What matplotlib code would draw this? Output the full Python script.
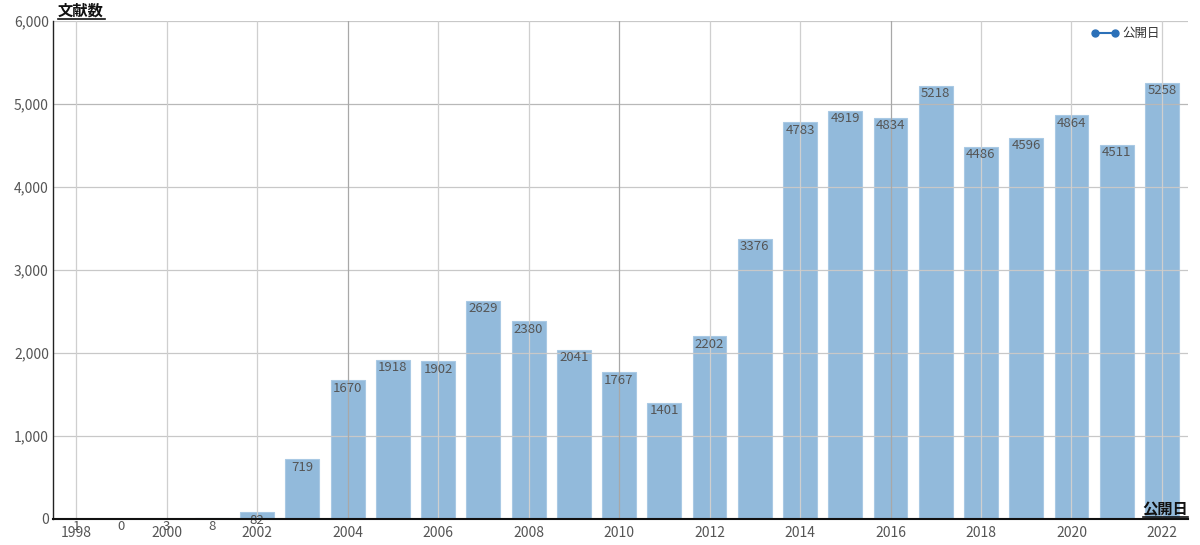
import matplotlib
matplotlib.use("Agg")
import matplotlib.pyplot as plt
from matplotlib.lines import Line2D

plt.rcParams['font.family'] = ['Noto Sans CJK JP', 'DejaVu Sans']

years = list(range(1998, 2023))
counts = [1, 0, 3, 8, 82, 719, 1670, 1918, 1902, 2629, 2380, 2041, 1767, 1401,
          2202, 3376, 4783, 4919, 4834, 5218, 4486, 4596, 4864, 4511, 5258]
xtick_years = list(range(1998, 2023, 2))
yticks = [0, 1000, 2000, 3000, 4000, 5000, 6000]
ytick_labels = ["0", "1,000", "2,000", "3,000", "4,000", "5,000", "6,000"]
dark_grid_years = [2004, 2010, 2016]
legend_label = "公開日"
xlabel = "公開日"
ylabel = "文献数"

fig = plt.figure(figsize=(12, 5.45), dpi=100)
ax = fig.add_axes([53/1200, 1 - 519/545, 1135/1200, 498/545])

ax.bar(years, counts, width=0.75, color='#92badb', edgecolor='#a9c9e4', linewidth=0.8, zorder=1)

ax.set_xlim(1997.49, 2022.575)
ax.set_ylim(0, 6000)

# grid on top of bars
for yv in yticks[1:]:
    ax.axhline(yv, color='#c8c8c8' if yv != 5000 else '#b8b8b8', linewidth=0.9, zorder=2)
for xv in xtick_years:
    c = '#a8a8a8' if xv in dark_grid_years else '#cfcfcf'
    ax.axvline(xv, color=c, linewidth=0.9, zorder=2)

for x, v in zip(years, counts):
    ax.annotate(str(v), (x, v), xytext=(0, -8), textcoords='offset pixels',
                ha='center', va='center', fontsize=9.5, color='#555555', zorder=3,
                annotation_clip=False)

ax.set_xticks(xtick_years)
ax.set_xticklabels([str(y) for y in xtick_years], fontsize=10, color='#555555')
ax.set_yticks(yticks)
ax.set_yticklabels(ytick_labels, fontsize=10, color='#555555')
ax.tick_params(axis='x', length=0, pad=5)
ax.tick_params(axis='y', length=0, pad=3)

for s in ['top', 'right']:
    ax.spines[s].set_visible(False)
ax.spines['left'].set_color('#222222')
ax.spines['bottom'].set_color('#111111')
ax.spines['bottom'].set_linewidth(1.5)
ax.spines['left'].set_linewidth(1.0)
ax.spines['bottom'].set_zorder(4)

fig.text(58/1200, 1 - 11/545, ylabel, fontsize=11, fontweight='bold', color='#111111',
         ha='left', va='center')
fig.add_artist(Line2D([58/1200, 105/1200], [1 - 19/545, 1 - 19/545], color='#111111', linewidth=1.2,
                      transform=fig.transFigure))
fig.text(1188/1200, 1 - 509/545, xlabel, fontsize=11, fontweight='bold', color='#111111',
         ha='right', va='center')
fig.add_artist(Line2D([1143/1200, 1188/1200], [1 - 517/545, 1 - 517/545], color='#111111', linewidth=1.2,
                      transform=fig.transFigure))

handle = Line2D([], [], color='#2b70b8', marker='o', markersize=5, linewidth=1.5)
leg = ax.legend([handle], [legend_label], loc='upper right', bbox_to_anchor=(0.983, 1.005),
                frameon=False, fontsize=9, handlelength=2.2, handletextpad=0.3, borderpad=0.2,
                numpoints=2)
for txt in leg.get_texts():
    txt.set_color('#333333')

fig.savefig('out.png', dpi=100)
